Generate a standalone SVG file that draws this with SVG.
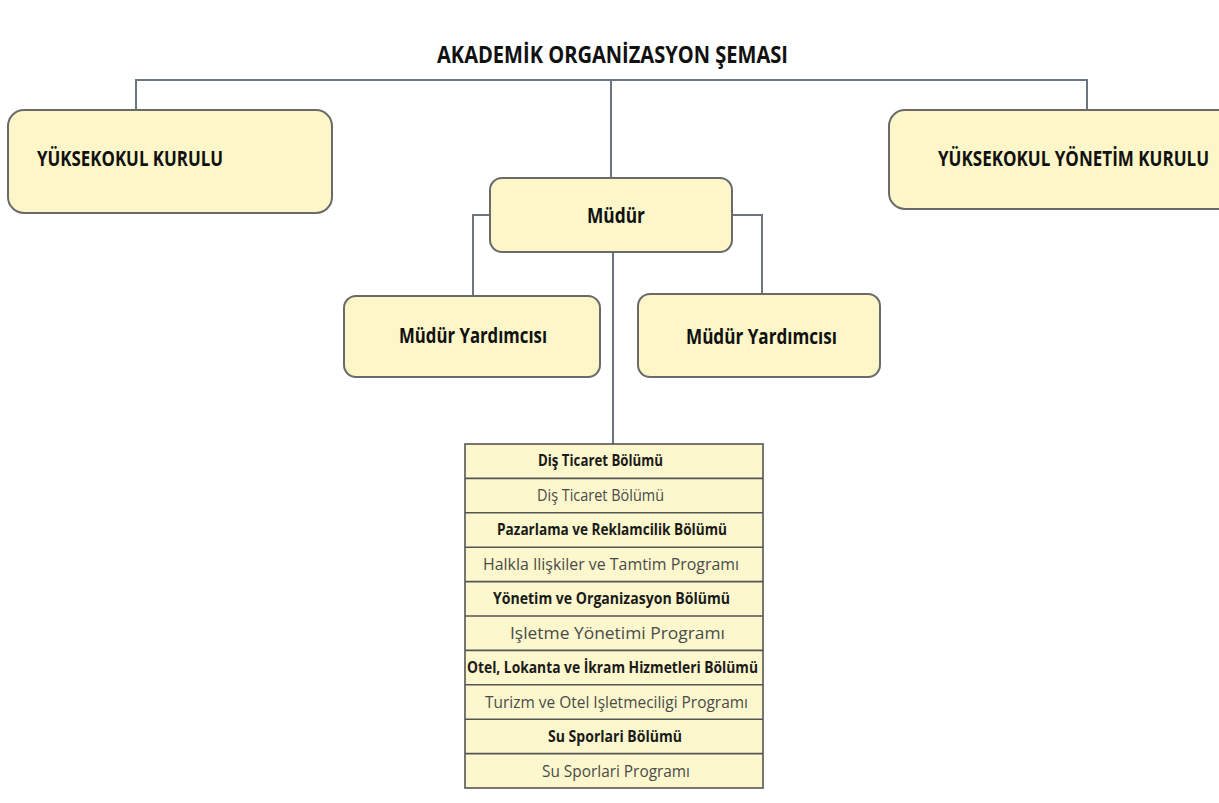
<svg xmlns="http://www.w3.org/2000/svg" width="1219" height="803" viewBox="0 0 1219 803">
<style>
.box{fill:#fcf6c8;stroke:#6a6a6a;stroke-width:2}
.lbl{font-family:"Open Sans","Liberation Sans",sans-serif;font-weight:bold;fill:#111}
.con{fill:none;stroke:#6b7580;stroke-width:2}
.row{fill:#fcf7cc;stroke:#555;stroke-width:1.6}
.dep{font-family:"Open Sans","Liberation Sans",sans-serif;font-weight:bold;font-size:15.5px;fill:#1a1a1a}
.prg{font-family:"Open Sans","Liberation Sans",sans-serif;font-size:15.5px;fill:#4a4a4a}
</style>
<rect width="1219" height="803" fill="#ffffff"/>
<text class="lbl" x="437" y="63" font-size="24" textLength="351" lengthAdjust="spacingAndGlyphs">AKADEMİK ORGANİZASYON ŞEMASI</text>
<g id="connectors">
<path class="con" d="M136,110 V80 H1087 V110"/>
<path class="con" d="M611,80 V178"/>
<path class="con" d="M490,215 H473 V296"/>
<path class="con" d="M732,215 H762 V294"/>
<path class="con" d="M613,252 V444"/>
</g>
<g id="yuksekokul-kurulu">
<rect class="box" x="8" y="110" width="324" height="103" rx="16"/>
<text class="lbl" x="37" y="166" font-size="21.5" textLength="186" lengthAdjust="spacingAndGlyphs">YÜKSEKOKUL KURULU</text>
</g>
<g id="yuksekokul-yonetim-kurulu">
<rect class="box" x="889" y="110" width="345" height="99" rx="16"/>
<text class="lbl" x="938" y="166" font-size="21" textLength="271" lengthAdjust="spacingAndGlyphs">YÜKSEKOKUL YÖNETİM KURULU</text>
</g>
<g id="mudur">
<rect class="box" x="490" y="178" width="242" height="74" rx="12"/>
<text class="lbl" x="587" y="223" font-size="21.5" textLength="58" lengthAdjust="spacingAndGlyphs">Müdür</text>
</g>
<g id="mudur-yardimcisi-1">
<rect class="box" x="344" y="296" width="256" height="81" rx="12"/>
<text class="lbl" x="399" y="343" font-size="21.5" textLength="148" lengthAdjust="spacingAndGlyphs">Müdür Yardımcısı</text>
</g>
<g id="mudur-yardimcisi-2">
<rect class="box" x="638" y="294" width="242" height="83" rx="12"/>
<text class="lbl" x="686" y="344" font-size="21.5" textLength="151" lengthAdjust="spacingAndGlyphs">Müdür Yardımcısı</text>
</g>
<g id="bolumler">
<rect class="row" x="465" y="444" width="298" height="344"/>
<path d="M465,478.4 H763 M465,512.8 H763 M465,547.2 H763 M465,581.6 H763 M465,616 H763 M465,650.4 H763 M465,684.8 H763 M465,719.2 H763 M465,753.6 H763" stroke="#555" stroke-width="1.6" fill="none"/>
<text class="dep" x="538" y="466" textLength="125" lengthAdjust="spacingAndGlyphs">Diş Ticaret Bölümü</text>
<text class="prg" x="537" y="501" textLength="127" lengthAdjust="spacingAndGlyphs">Diş Ticaret Bölümü</text>
<text class="dep" x="497" y="535" textLength="230" lengthAdjust="spacingAndGlyphs">Pazarlama ve Reklamcilik Bölümü</text>
<text class="prg" x="483" y="570" textLength="256" lengthAdjust="spacingAndGlyphs" fill="#666">Halkla Ilişkiler ve Tamtim Programı</text>
<text class="dep" x="493" y="604" textLength="237" lengthAdjust="spacingAndGlyphs">Yönetim ve Organizasyon Bölümü</text>
<text class="prg" x="510" y="639" textLength="215" lengthAdjust="spacingAndGlyphs">Işletme Yönetimi Programı</text>
<text class="dep" x="467" y="673" textLength="291" lengthAdjust="spacingAndGlyphs">Otel, Lokanta ve İkram Hizmetleri Bölümü</text>
<text class="prg" x="485" y="708" textLength="263" lengthAdjust="spacingAndGlyphs">Turizm ve Otel Işletmeciligi Programı</text>
<text class="dep" x="548" y="742" textLength="134" lengthAdjust="spacingAndGlyphs">Su Sporlari Bölümü</text>
<text class="prg" x="542" y="777" textLength="148" lengthAdjust="spacingAndGlyphs">Su Sporlari Programı</text>
</g>
</svg>
